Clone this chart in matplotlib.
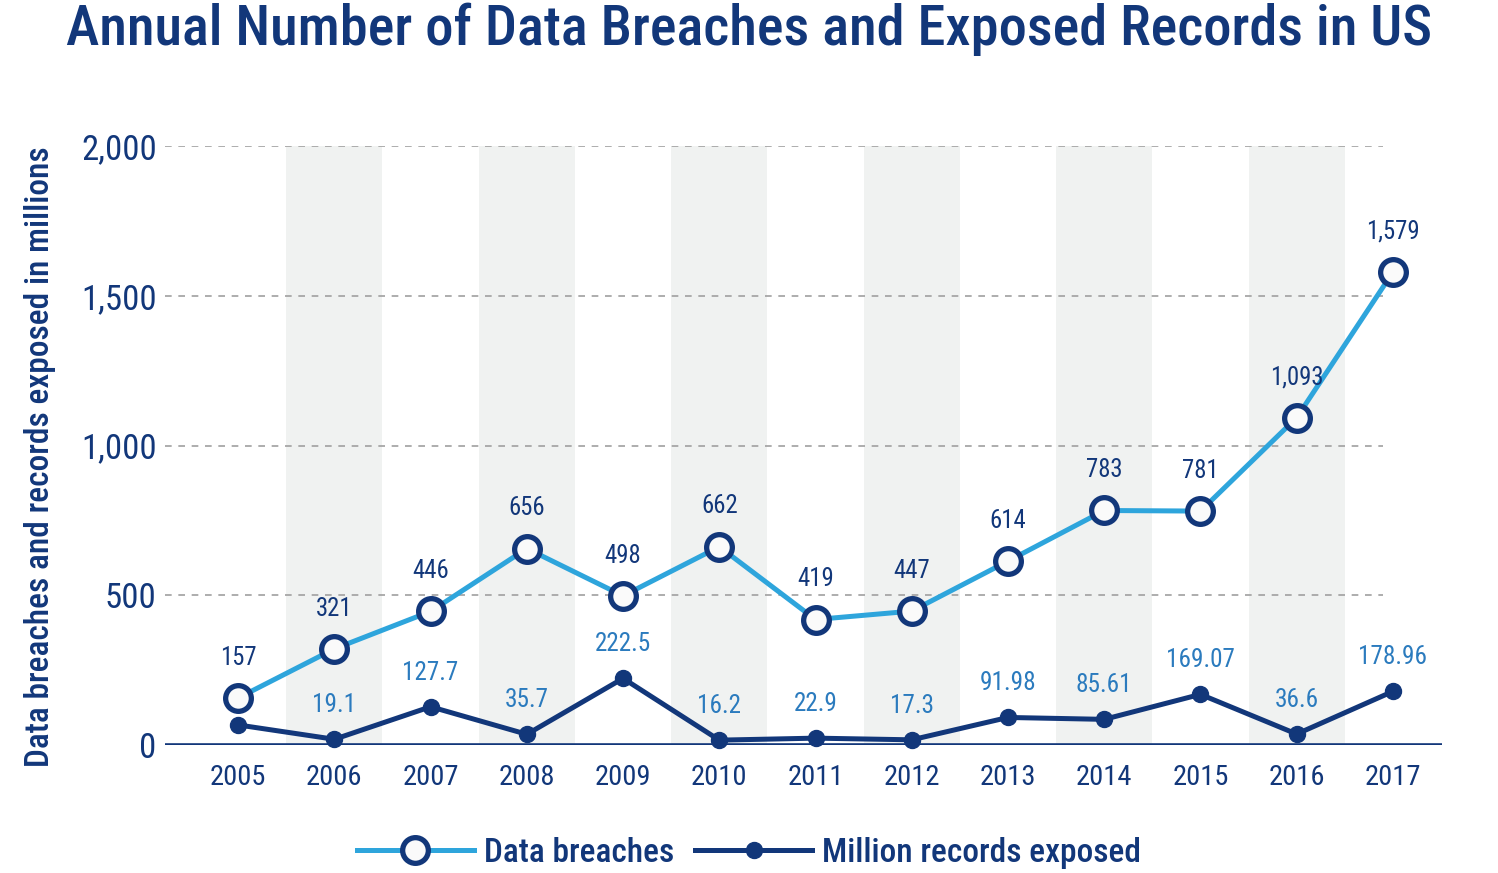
import matplotlib
matplotlib.use("Agg")
import matplotlib.pyplot as plt
from matplotlib.lines import Line2D

years = [2005, 2006, 2007, 2008, 2009, 2010, 2011, 2012, 2013, 2014, 2015, 2016, 2017]
breaches = [157, 321, 446, 656, 498, 662, 419, 447, 614, 783, 781, 1093, 1579]
breach_labels = ["157", "321", "446", "656", "498", "662", "419", "447", "614", "783", "781", "1,093", "1,579"]
records = [67, 19.1, 127.7, 35.7, 222.5, 16.2, 22.9, 17.3, 91.98, 85.61, 169.07, 36.6, 178.96]
record_labels = ["", "19.1", "127.7", "35.7", "222.5", "16.2", "22.9", "17.3", "91.98", "85.61", "169.07", "36.6", "178.96"]
yticks = [0, 500, 1000, 1500, 2000]
ytick_labels = ["0", "500", "1,000", "1,500", "2,000"]

NAVY = "#12377A"
LIGHT = "#2EA5DC"
MID = "#2B7BBE"
BAND = "#F0F2F1"

plt.rcParams["font.family"] = ["Roboto Condensed", "Roboto", "DejaVu Sans"]

fig = plt.figure(figsize=(14.98, 8.73), dpi=100)
W, H = 1498, 873
ax = fig.add_axes([165 / W, 1 - 745 / H, (1442 - 165) / W, (745 - 146) / H])
ax.set_xlim(2004.24, 2017.51)
ax.set_ylim(0, 2000)

for i, y in enumerate(years):
    if i % 2 == 1:
        ax.axvspan(y - 0.5, y + 0.5, ymin=0, ymax=1, color=BAND, lw=0, zorder=0)

for t in yticks[1:]:
    ax.hlines(t, 2004.24, 2016.9, colors="#A0A0A0", linestyles=(0, (4, 4)), lw=1.2, zorder=1)
ax.axhline(0, color=NAVY, lw=2.6, zorder=2, xmin=0, xmax=1)

ax.plot(years, breaches, color=LIGHT, lw=3.6, marker="o", ms=18.5, mfc="#FAFAFA",
        mec=NAVY, mew=3.8, zorder=5, clip_on=False)
ax.plot(years, records, color=NAVY, lw=3.6, marker="o", ms=11.5, mfc=NAVY,
        mec=NAVY, zorder=4, clip_on=False)

for x, v, s in zip(years, breaches, breach_labels):
    ax.annotate(s, (x, v), xytext=(0, 29), textcoords="offset points", ha="center",
                va="center", fontsize=17.8, color=NAVY, zorder=6)
for x, v, s in zip(years, records, record_labels):
    ax.annotate(s, (x, v), xytext=(0, 24.5), textcoords="offset points", ha="center",
                va="center", fontsize=18.2, color=MID, zorder=6)

for s in ax.spines.values():
    s.set_visible(False)
ax.set_xticks(years)
ax.set_xticklabels([str(y) for y in years], fontsize=20.5, color=NAVY)
ax.set_yticks(yticks)
ax.set_yticklabels(ytick_labels, fontsize=25, color=NAVY)
ax.tick_params(axis="both", length=0)
ax.tick_params(axis="x", pad=14)
ax.tick_params(axis="y", pad=6)

fig.text(40 / W, 1 - 457 / H, "Data breaches and records exposed in millions", rotation=90,
         ha="center", va="center", fontsize=24, color=NAVY, fontweight="medium")

fig.text(0.5, 1 - 45 / H, "Annual Number of Data Breaches and Exposed Records in US",
         ha="center", va="baseline", fontsize=40.6, color=NAVY, fontweight="medium")

h1 = Line2D([], [], color=LIGHT, lw=3.6, marker="o", ms=18.5, mfc="#FAFAFA", mec=NAVY, mew=3.8)
h2 = Line2D([], [], color=NAVY, lw=3.6, marker="o", ms=11.5, mfc=NAVY, mec=NAVY)
fig.legend([h1, h2], ["Data breaches", "Million records exposed"], loc="center",
           bbox_to_anchor=(0.5, 1 - 853 / H), ncol=2, frameon=False, numpoints=1,
           handlelength=3.5, handletextpad=0.3, columnspacing=0.65,
           prop={"size": 24, "weight": "medium"}, labelcolor=NAVY)

fig.savefig("out.png", dpi=100)
